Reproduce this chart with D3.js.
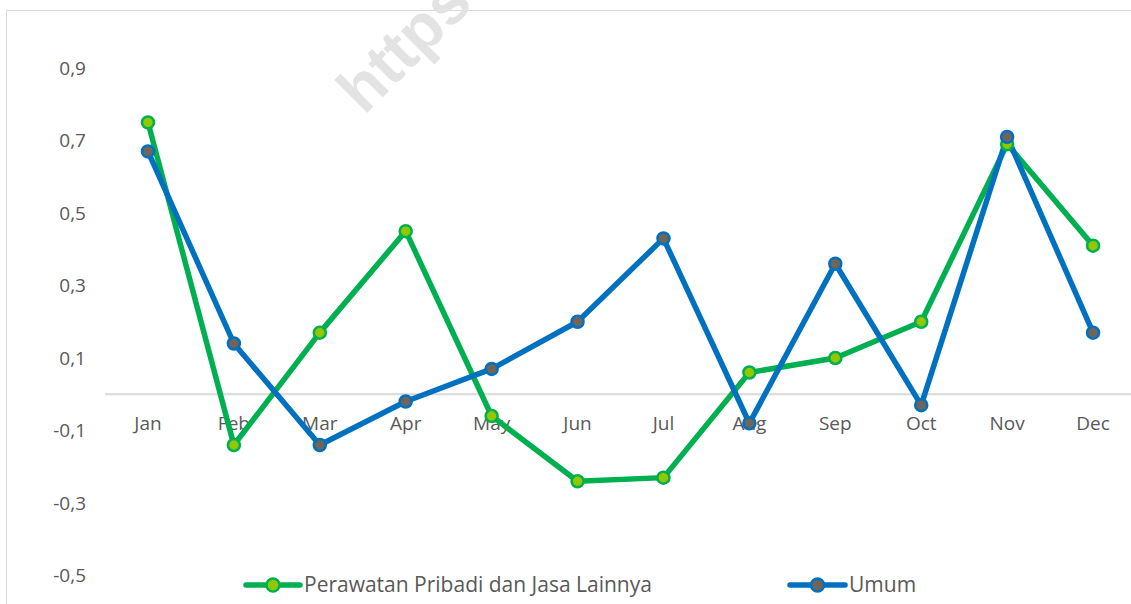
<!DOCTYPE html>
<html>
<head>
<meta charset="utf-8">
<script src="https://cdn.jsdelivr.net/npm/d3@7"></script>
<style>
  html, body { margin: 0; padding: 0; background: #ffffff; }
  svg { display: block; }
  text { font-family: "Open Sans", "Noto Sans", sans-serif; fill: #595959; }
</style>
</head>
<body>
<svg id="chart" width="1131" height="604"></svg>
<script>
const months = ["Jan","Feb","Mar","Apr","May","Jun","Jul","Aug","Sep","Oct","Nov","Dec"];
const perawatan = [0.75, -0.14, 0.17, 0.45, -0.06, -0.24, -0.23, 0.06, 0.10, 0.20, 0.69, 0.41];
const umum = [0.67, 0.14, -0.14, -0.02, 0.07, 0.20, 0.43, -0.08, 0.36, -0.03, 0.71, 0.17];
const yTicks = [-0.5, -0.3, -0.1, 0.1, 0.3, 0.5, 0.7, 0.9];
const seriesNames = ["Perawatan Pribadi dan Jasa Lainnya", "Umum"];
const watermark = "https";

const svg = d3.select("#chart");

// chart frame
svg.append("rect").attr("x", 6.5).attr("y", 10.5).attr("width", 1140).attr("height", 620)
  .attr("fill", "#ffffff").attr("stroke", "#d9d9d9").attr("stroke-width", 1);

const x = d3.scaleBand().domain(months).range([105, 1136]).padding(0);
const y = d3.scaleLinear().domain([-0.5, 0.9]).range([575.5, 68]);

// watermark
svg.append("text")
  .attr("transform", "translate(364,116) rotate(-45)")
  .style("font-family", "'Liberation Sans', Arial, sans-serif")
  .style("font-weight", "bold").style("font-size", "64px")
  .style("fill", "#e3e3e3")
  .text(watermark);

// y axis labels
const yAxis = d3.axisLeft(y).tickValues(yTicks)
  .tickFormat(d => d3.format(".1f")(d).replace(".", ",").replace("−", "-"))
  .tickSize(0).tickPadding(0);
const gy = svg.append("g").attr("transform", "translate(86,0)").call(yAxis);
gy.select(".domain").remove();
gy.selectAll("text").style("font-size", "19px").style("fill", "#595959")
  .style("font-family", "'Open Sans', sans-serif");

// zero line
svg.append("line").attr("x1", 105).attr("x2", 1136)
  .attr("y1", y(0)).attr("y2", y(0))
  .attr("stroke", "#d9d9d9").attr("stroke-width", 2);

// x axis labels
const xAxis = d3.axisBottom(x).tickSize(0).tickPadding(0);
const gx = svg.append("g").attr("transform", `translate(0,${y(0) + 22})`).call(xAxis);
gx.select(".domain").remove();
gx.selectAll("text").style("font-size", "19px").style("fill", "#595959")
  .style("font-family", "'Open Sans', sans-serif");

const cx = d => x(d) + x.bandwidth() / 2;
const line = d3.line().x((d, i) => cx(months[i])).y(d => y(d));

const series = [
  { name: seriesNames[0], values: perawatan, stroke: "#00b050", fill: "#92c800" },
  { name: seriesNames[1], values: umum, stroke: "#0070c0", fill: "#706558" }
];

series.forEach(s => {
  svg.append("path").datum(s.values).attr("d", line)
    .attr("fill", "none").attr("stroke", s.stroke).attr("stroke-width", 5.5)
    .attr("stroke-linejoin", "round");
});
series.forEach(s => {
  svg.append("g").selectAll("circle").data(s.values).join("circle")
    .attr("cx", (d, i) => cx(months[i])).attr("cy", d => y(d)).attr("r", 6)
    .attr("fill", s.fill).attr("stroke", s.stroke).attr("stroke-width", 2.5);
});

// legend
const legendItems = [
  { s: series[0], x0: 246, x1: 300 },
  { s: series[1], x0: 790, x1: 845 }
];
legendItems.forEach(li => {
  const g = svg.append("g");
  const ly = 585;
  g.append("line").attr("x1", li.x0).attr("x2", li.x1).attr("y1", ly).attr("y2", ly)
    .attr("stroke", li.s.stroke).attr("stroke-width", 5.5).attr("stroke-linecap", "round");
  g.append("circle").attr("cx", (li.x0 + li.x1) / 2).attr("cy", ly).attr("r", 6.5)
    .attr("fill", li.s.fill).attr("stroke", li.s.stroke).attr("stroke-width", 2.5);
  g.append("text").attr("x", li.x1 + 4).attr("y", ly).attr("dy", "0.35em")
    .style("font-size", "21px").text(li.s.name);
});
</script>
</body>
</html>
